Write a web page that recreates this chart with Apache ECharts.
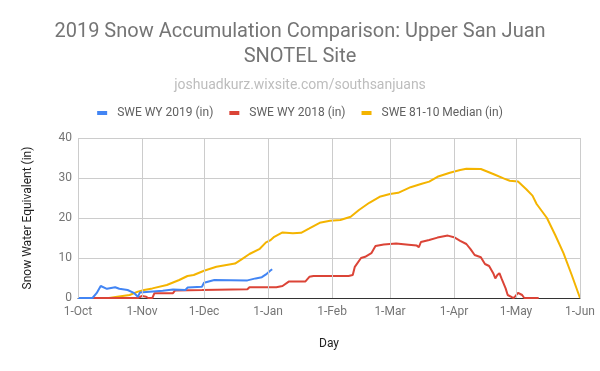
<!DOCTYPE html>
<html><head><meta charset="utf-8">
<script src="https://cdn.jsdelivr.net/npm/echarts@6/dist/echarts.min.js"></script>
<style>html,body{margin:0;padding:0;background:#fff}#c{width:600px;height:371px}</style>
</head><body><div id="c"></div>
<script>
// x = days since 1-Oct
const monthStarts = [0, 31, 61, 92, 123, 151, 182, 212, 243];
const monthLabels = ['1-Oct','1-Nov','1-Dec','1-Jan','1-Feb','1-Mar','1-Apr','1-May','1-Jun'];
const yTicks = [0, 10, 20, 30, 40];

const wy2019Days = [0, 7, 9, 11, 14, 18, 20, 24, 27, 29, 30, 41, 46, 52, 53, 60, 61, 66, 82, 86, 89, 91, 93, 94];
const wy2019Vals = [0, 0, 1.2, 3.0, 2.3, 2.7, 2.3, 2.0, 1.3, 0.3, 1.4, 1.8, 2.1, 2.0, 2.6, 2.8, 3.8, 4.5, 4.4, 4.9, 5.2, 5.9, 6.8, 7.2];

const wy2018Days = [0, 29, 31, 33, 34, 36, 37, 46, 47, 60, 82, 83, 96, 99, 102, 110, 112, 114, 131, 133, 134, 137, 139, 142, 144, 148, 154, 160, 164, 165, 166, 170, 174, 179, 182, 185, 188, 190, 192, 195, 197, 199, 201, 202, 203, 204, 205, 207, 208, 210, 211, 213, 215, 216, 223];
const wy2018Vals = [0, 0, 0.5, 0.3, 0, 0, 1.2, 1.2, 1.9, 2.0, 2.2, 2.7, 2.7, 3.0, 4.1, 4.1, 5.3, 5.5, 5.5, 5.75, 7.8, 10.0, 10.3, 11.2, 13.0, 13.4, 13.6, 13.3, 13.1, 12.7, 14.0, 14.5, 15.1, 15.6, 15.2, 14.3, 13.5, 12.2, 10.75, 10.2, 8.5, 8.0, 6.2, 4.9, 5.75, 6.2, 4.9, 2.4, 0.75, 0.2, 0, 1.3, 0.75, 0, 0];

const medianDays = [0, 15, 19, 25, 29, 32, 36, 43, 49, 53, 56, 61, 67, 76, 79, 83, 88, 91, 93, 95, 99, 104, 108, 112, 117, 122, 127, 132, 136, 141, 146, 151, 155, 161, 166, 170, 174, 180, 185, 188, 195, 201, 206, 209, 213, 217, 220, 222, 227, 231, 235, 239, 243];
const medianVals = [0, 0, 0.3, 0.75, 1.6, 2.0, 2.4, 3.25, 4.5, 5.5, 5.75, 6.8, 7.8, 8.6, 9.6, 11.0, 12.3, 13.9, 14.4, 15.3, 16.4, 16.2, 16.3, 17.4, 18.8, 19.3, 19.5, 20.3, 22.0, 23.8, 25.3, 26.0, 26.3, 27.7, 28.5, 29.1, 30.3, 31.3, 32.0, 32.3, 32.25, 31.0, 29.9, 29.3, 29.1, 27.2, 25.6, 23.5, 20.0, 15.75, 11.2, 5.75, 0];

const seriesNames = ['SWE WY 2019 (in)', 'SWE WY 2018 (in)', 'SWE 81-10 Median (in)'];
const colors = ['#4285F4', '#DB4437', '#F4B400'];

const pairs = (d, v) => d.map((x, i) => [x, v[i]]);
const chart = echarts.init(document.getElementById('c'), null, {renderer: 'canvas'});
const font = 'Roboto, "Noto Sans", sans-serif';
chart.setOption({
  animation: false,
  color: colors,
  title: {
    text: '2019 Snow Accumulation Comparison: Upper San Juan\nSNOTEL Site',
    subtext: 'joshuadkurz.wixsite.com/southsanjuans',
    left: 'center', top: 14, itemGap: 9,
    textStyle: {fontFamily: font, fontSize: 20, fontWeight: 'normal', color: '#757575', lineHeight: 25},
    subtextStyle: {fontFamily: font, fontSize: 14, color: '#bdbdbd'}
  },
  legend: {
    top: 102, left: 'center', icon: 'rect', itemWidth: 10, itemHeight: 4, itemGap: 16,
    textStyle: {fontFamily: font, fontSize: 12, color: '#616161', padding: [0, 0, 0, 5]},
    data: seriesNames
  },
  grid: {left: 78, right: 20, top: 138, bottom: 73, containLabel: false},
  xAxis: {
    type: 'value', min: 0, max: 243,
    name: 'Day', nameLocation: 'middle', nameGap: 40,
    nameTextStyle: {fontFamily: font, fontSize: 12, color: '#222'},
    axisLine: {show: true, onZero: false, lineStyle: {color: '#333', width: 1}},
    axisTick: {show: false, customValues: monthStarts},
    axisLabel: {customValues: monthStarts, formatter: v => monthLabels[monthStarts.indexOf(v)], fontFamily: font, fontSize: 12, color: '#757575', margin: 8},
    splitLine: {show: false}
  },
  yAxis: {
    type: 'value', min: 0, max: 40, interval: 10,
    name: 'Snow Water Equivalent (in)', nameLocation: 'middle', nameGap: 44,
    nameTextStyle: {fontFamily: font, fontSize: 12, color: '#222'},
    axisLine: {show: false}, axisTick: {show: false},
    axisLabel: {fontFamily: font, fontSize: 12, color: '#757575', margin: 6},
    splitLine: {lineStyle: {color: '#cccccc', width: 1}}
  },
  series: [
    {name: seriesNames[0], type: 'line', data: pairs(wy2019Days, wy2019Vals), showSymbol: false, lineStyle: {width: 2}, z: 4,
     markLine: {silent: true, symbol: 'none', label: {show: false}, lineStyle: {color: '#cccccc', width: 1, type: 'solid'},
       data: monthStarts.map(m => ({xAxis: m}))}},
    {name: seriesNames[1], type: 'line', data: pairs(wy2018Days, wy2018Vals), showSymbol: false, lineStyle: {width: 2}, z: 3},
    {name: seriesNames[2], type: 'line', data: pairs(medianDays, medianVals), showSymbol: false, lineStyle: {width: 2}, z: 2}
  ]
});
</script></body></html>
